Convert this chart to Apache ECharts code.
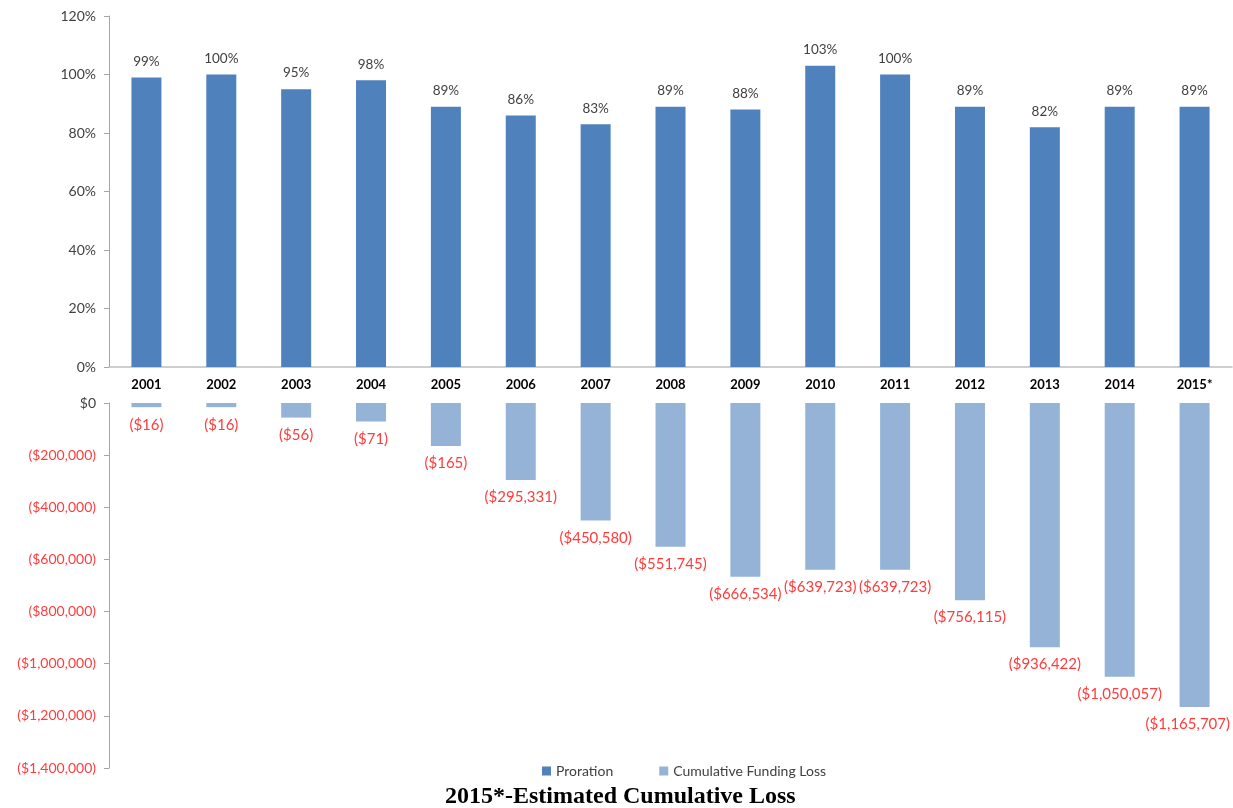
<!DOCTYPE html>
<html>
<head>
<meta charset="utf-8">
<script src="https://cdn.jsdelivr.net/npm/echarts@6/dist/echarts.min.js"></script>
<style>
  html, body { margin: 0; padding: 0; background: #ffffff; }
  #chart { width: 1233px; height: 808px; }
</style>
</head>
<body>
<div id="chart"></div>
<script>
// Fiscal years shown on the shared category axis
const years = ['2001', '2002', '2003', '2004', '2005', '2006', '2007', '2008',
               '2009', '2010', '2011', '2012', '2013', '2014', '2015*'];

// Proration percentage per year
const proration = [99, 100, 95, 98, 89, 86, 83, 89, 88, 103, 100, 89, 82, 89, 89];

// Cumulative funding loss per year (dollars)
const cumulativeLoss = [16000, 16000, 56000, 71000, 165000, 295331, 450580, 551745,
                        666534, 639723, 639723, 756115, 936422, 1050057, 1165707];

// Label text printed under each loss bar
const lossLabels = ['($16)', '($16)', '($56)', '($71)', '($165)', '($295,331)', '($450,580)',
                    '($551,745)', '($666,534)', '($639,723)', '($639,723)', '($756,115)',
                    '($936,422)', '($1,050,057)', '($1,165,707)'];

const FONT = 'Lato, "Noto Sans", sans-serif';
const GRAY = '#404040';
const RED = '#FF3B3B';
const CHART_WIDTH = 1233;

function money(v) {
  if (v === 0) return '$0';
  return '($' + Math.abs(v).toLocaleString('en-US') + ')';
}

const chart = echarts.init(document.getElementById('chart'));
chart.setOption({
  animation: false,
  textStyle: { fontFamily: FONT },
  title: {
    text: '2015*-Estimated Cumulative Loss',
    left: 445,
    top: 785,
    padding: 0,
    textStyle: { fontFamily: '"Liberation Serif", "Times New Roman", serif', fontWeight: 'bold', fontSize: 24, color: '#000' }
  },
  legend: {
    top: 759,
    left: 537,
    itemWidth: 9,
    itemHeight: 9,
    itemGap: 46,
    icon: 'rect',
    textStyle: { color: GRAY, fontSize: 14, fontFamily: FONT },
    data: ['Proration', 'Cumulative Funding Loss']
  },
  grid: [
    { left: 109, right: 1, top: 16, height: 351 },
    { left: 109, right: 1, top: 403, height: 365 }
  ],
  xAxis: [
    {
      type: 'category', gridIndex: 0, data: years,
      axisLine: { lineStyle: { color: '#BFBFBF', width: 1.5 } },
      axisTick: { show: false },
      axisLabel: { color: '#000', fontWeight: 'bold', fontSize: 13, margin: 11, fontFamily: FONT }
    },
    {
      type: 'category', gridIndex: 1, data: years, position: 'top',
      axisLine: { show: false }, axisTick: { show: false }, axisLabel: { show: false }
    }
  ],
  yAxis: [
    {
      type: 'value', gridIndex: 0, min: 0, max: 120, interval: 20,
      axisLine: { show: true, lineStyle: { color: '#A6A6A6' } },
      axisTick: { show: true, inside: false, length: 5, lineStyle: { color: '#A6A6A6' } },
      splitLine: { show: false },
      axisLabel: { color: GRAY, fontSize: 14, margin: 13, formatter: v => v + '%' }
    },
    {
      type: 'value', gridIndex: 1, min: -1400000, max: 0, interval: 200000,
      axisLine: { show: true, lineStyle: { color: '#A6A6A6' } },
      axisTick: { show: true, length: 5, lineStyle: { color: '#A6A6A6' } },
      splitLine: { show: false },
      axisLabel: {
        fontSize: 14, margin: 13,
        formatter: money,
        color: v => (Number(v) === 0 ? GRAY : RED)
      }
    }
  ],
  series: [
    {
      name: 'Proration', type: 'bar', xAxisIndex: 0, yAxisIndex: 0,
      data: proration, barWidth: 30,
      itemStyle: { color: '#4F81BD' },
      label: { show: true, position: 'top', distance: 9, color: GRAY, fontSize: 13.5, formatter: p => p.value + '%' }
    },
    {
      name: 'Cumulative Funding Loss', type: 'bar', xAxisIndex: 1, yAxisIndex: 1,
      data: cumulativeLoss.map(v => -v), barWidth: 30,
      itemStyle: { color: '#95B3D7' },
      label: { show: true, position: 'bottom', distance: 10, color: RED, fontSize: 15, formatter: p => lossLabels[p.dataIndex] },
      // keep labels inside the canvas at the right edge
      labelLayout: params => {
        const r = params.labelRect;
        const over = r.x + r.width - (CHART_WIDTH - 3);
        return over > 0 ? { dx: -over } : {};
      }
    }
  ]
});
</script>
</body>
</html>
